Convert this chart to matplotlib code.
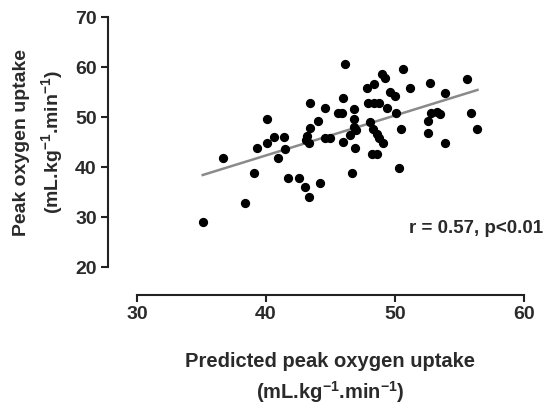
import matplotlib.pyplot as plt
import numpy as np

plt.rcParams['font.family'] = 'Liberation Sans'
plt.rcParams['font.weight'] = 'bold'
plt.rcParams['axes.labelweight'] = 'bold'
plt.rcParams['mathtext.fontset'] = 'custom'
plt.rcParams['mathtext.rm'] = 'Liberation Sans:bold'
plt.rcParams['mathtext.default'] = 'rm'

predicted = [35.1, 36.7, 38.4, 39.1, 39.3, 40.1, 40.1, 40.6, 40.9, 41.4,
             41.5, 41.7, 42.6, 43.0, 43.3, 44.2, 43.4, 44.6, 45.6, 45.9,
             46.0, 46.1, 44.0, 43.4, 43.2, 43.1, 43.3, 44.6, 45.0, 46.0,
             46.5, 46.8, 46.8, 47.0, 46.9, 46.7, 46.8, 47.8, 48.4, 47.9,
             48.4, 48.8, 49.0, 49.2, 49.6, 50.0, 49.4, 50.1, 50.6, 51.2,
             52.7, 53.9, 55.6, 48.1, 48.3, 48.6, 48.8, 49.1, 48.2, 48.6,
             50.5, 50.3, 52.6, 52.8, 53.3, 52.6, 53.9, 53.5, 55.9, 56.4]
peak = [29.0, 41.9, 32.9, 38.9, 43.9, 49.7, 44.9, 46.1, 41.9, 46.1,
        43.7, 37.9, 37.9, 36.0, 34.0, 36.9, 52.8, 51.8, 50.9, 50.9,
        53.9, 60.7, 49.3, 47.8, 46.3, 45.4, 44.8, 45.8, 45.8, 45.0,
        46.5, 48.1, 49.7, 47.5, 43.9, 38.9, 51.6, 55.9, 56.7, 52.9,
        52.9, 52.9, 58.7, 57.8, 55.0, 54.2, 51.8, 50.8, 59.6, 55.8,
        56.8, 54.8, 57.7, 49.1, 47.6, 46.6, 45.8, 44.8, 42.7, 42.7,
        47.7, 39.9, 49.2, 50.8, 51.0, 46.8, 44.9, 50.7, 50.8, 47.7]

x = np.array(predicted)
y = np.array(peak)
m, b = np.polyfit(x, y, 1)
xl = np.array([x.min(), x.max()])

txt = '#2a2a2a'
fig = plt.figure(figsize=(5.48, 4.09), dpi=100)
ax = fig.add_axes([0.25, 0.347, 0.706, 0.611])
ax.scatter(x, y, s=32, color='black', zorder=3, clip_on=False)
ax.plot(xl, m * xl + b, color='#8a8a8a', lw=1.8, zorder=2)

ax.set_xlim(30, 60)
ax.set_ylim(20, 70)
ax.set_xticks([30, 40, 50, 60])
ax.set_yticks([20, 30, 40, 50, 60, 70])
for s in ['top', 'right']:
	ax.spines[s].set_visible(False)
# offsets in points (29px / 28px at 100 dpi)
ax.spines['left'].set_position(('outward', 21))
ax.spines['bottom'].set_position(('outward', 20))
for s in ['left', 'bottom']:
	ax.spines[s].set_linewidth(1.5)
	ax.spines[s].set_color('#222222')
ax.tick_params(width=1.5, length=5, color='#222222', labelsize=14, labelcolor=txt, pad=3)

ax.set_xlabel('Predicted peak oxygen uptake\n(mL.kg$^{-1}$.min$^{-1}$)', fontsize=14.5,
              color=txt, labelpad=21, linespacing=1.4)
ax.set_ylabel('Peak oxygen uptake\n(mL.kg$^{-1}$.min$^{-1}$)', fontsize=14,
              color=txt, labelpad=7, linespacing=1.5)
ax.text(61.5, 27.8, 'r = 0.57, p<0.01', ha='right', va='center', fontsize=13.5,
        color=txt, clip_on=False)

plt.savefig('out.png')
